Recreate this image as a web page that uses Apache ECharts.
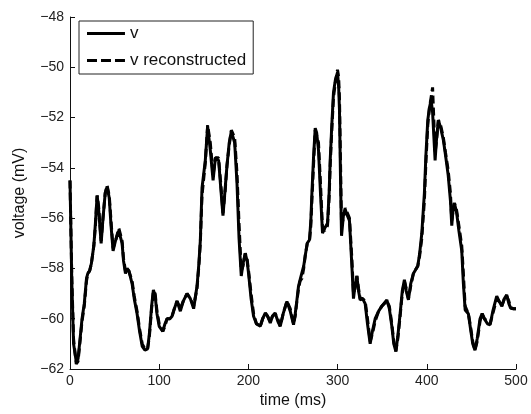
<!DOCTYPE html>
<html><head><meta charset="utf-8">
<script src="https://cdn.jsdelivr.net/npm/echarts@6/dist/echarts.min.js"></script>
<style>html,body{margin:0;padding:0;background:#fff}#c{width:531px;height:414px}</style>
</head><body><div id="c"></div>
<script>
const time = [0,2,4,7,9,11,13.5,16,18.5,20,22,24,26.7,28.5,30.4,32,34.9,37,39.5,41.6,44,46,48.3,51,54.7,58.4,60,62.2,64,66,69.6,72,75.2,78,81,84,87,89,91.5,93.5,95.5,97.5,100,104,106.5,108.8,112,114.4,117,120,123.7,127,131.2,134.9,138.6,142.4,144.5,146.1,148,151.7,154.3,157.3,160.4,163,166.6,169,171.5,174,176,178.5,180.9,184.6,187.2,189.5,192,194,196.5,198.5,200.2,203,205.8,209,213.3,216,219,221.5,224.5,227,230,233,235.7,239,243.2,246.9,250.6,252.5,254.4,256.2,258,260,262,263.7,266,268.5,270,271.2,273,274.9,276.5,278.6,280.8,283.1,285.5,288.7,290.5,291.7,293.5,295.4,297.5,299.9,301.2,302.1,303.3,304.4,306.5,308.5,311,313.3,316,317.8,319.5,321.6,323.5,325.3,328,330.9,333.5,336.5,339,342.1,346,349.6,355.2,358,360.8,363,365.3,367.5,370.1,372.5,374.9,377,379.4,382,385,389.9,392,394.4,397.3,399,401.1,403,404.8,406.5,409.3,411,413,415.5,418.6,421,424,426.5,428,429.5,431,433.5,436,439.2,441,443,446.6,449,451.5,454,456.5,459.7,462,464.5,468,471,474,478.4,481,484,487,489.6,492,494,497,500];
const v = [-54.5,-58.5,-61.0,-61.7,-61.6,-60.9,-60.0,-59.4,-58.4,-58.2,-58.1,-57.8,-57.1,-56.2,-55.1,-55.6,-57.0,-56.0,-55.0,-54.75,-55.2,-56.3,-57.3,-56.9,-56.5,-57.0,-57.7,-58.2,-58.0,-58.1,-58.6,-59.2,-59.8,-60.5,-61.1,-61.25,-61.2,-60.6,-59.5,-58.85,-59.1,-59.8,-60.3,-60.5,-60.2,-60.0,-60.0,-59.9,-59.6,-59.3,-59.7,-59.3,-59.0,-59.2,-59.6,-58.7,-57.8,-56.9,-54.8,-53.7,-52.35,-53.3,-54.5,-53.6,-53.7,-54.8,-55.9,-54.8,-53.9,-53.0,-52.55,-53.0,-54.6,-56.8,-58.3,-57.8,-57.4,-57.7,-58.2,-59.2,-59.9,-60.2,-60.3,-60.0,-59.77,-59.9,-60.17,-59.9,-59.77,-60.1,-60.3,-59.8,-59.31,-59.7,-60.24,-59.8,-59.25,-58.7,-58.45,-58.38,-57.9,-57.5,-57.0,-56.86,-56.1,-55.0,-53.6,-52.42,-52.6,-53.3,-55.0,-56.6,-56.4,-56.2,-55.0,-53.7,-52.3,-51.0,-50.5,-50.2,-50.8,-51.7,-54.5,-56.7,-55.9,-55.66,-55.9,-56.1,-57.9,-59.2,-58.7,-58.3,-58.9,-59.25,-59.2,-59.4,-60.2,-61.0,-60.5,-60.0,-59.7,-59.5,-59.25,-59.6,-60.3,-61.0,-61.3,-60.7,-59.8,-58.9,-58.45,-58.9,-59.25,-58.6,-58.2,-57.9,-57.4,-56.6,-55.0,-53.5,-52.1,-51.6,-51.3,-51.8,-53.7,-52.8,-52.1,-52.4,-52.9,-53.5,-54.3,-55.3,-56.3,-55.6,-55.4,-55.8,-56.5,-57.3,-58.6,-59.65,-59.8,-60.4,-61.0,-61.25,-60.8,-60.0,-59.8,-60.0,-60.2,-60.24,-59.7,-59.1,-59.3,-59.5,-59.2,-59.05,-59.4,-59.58,-59.6,-59.6];
const vRecon = [-54.5,-58.3,-60.8,-61.8,-61.7,-61.0,-60.1,-59.5,-58.5,-58.2,-58.1,-57.8,-57.1,-56.3,-55.1,-55.5,-56.9,-56.0,-55.0,-54.7,-55.1,-56.1,-57.2,-56.9,-56.4,-56.9,-57.6,-58.1,-58.0,-58.1,-58.5,-59.1,-59.7,-60.4,-61.0,-61.2,-61.2,-60.7,-59.6,-58.9,-59.0,-59.7,-60.2,-60.5,-60.3,-60.0,-60.0,-59.9,-59.6,-59.3,-59.6,-59.3,-59.0,-59.2,-59.5,-58.8,-57.9,-57.0,-55.1,-53.8,-52.3,-53.0,-54.3,-53.6,-53.6,-54.6,-55.8,-54.9,-53.9,-53.1,-52.5,-52.8,-54.2,-56.2,-58.1,-57.9,-57.4,-57.6,-58.1,-59.0,-59.8,-60.2,-60.3,-60.0,-59.8,-59.9,-60.1,-59.9,-59.8,-60.0,-60.3,-59.8,-59.3,-59.6,-60.2,-59.9,-59.3,-58.8,-58.5,-58.4,-58.0,-57.5,-57.0,-56.9,-56.3,-55.3,-53.9,-52.5,-52.5,-53.0,-54.6,-56.4,-56.5,-56.3,-55.2,-53.9,-52.5,-51.2,-50.6,-50.1,-50.4,-51.2,-53.8,-56.3,-56.0,-55.6,-55.8,-56.0,-57.6,-59.0,-58.8,-58.3,-58.8,-59.2,-59.2,-59.3,-60.0,-60.9,-60.6,-60.1,-59.7,-59.5,-59.3,-59.5,-60.2,-60.9,-61.3,-60.8,-59.9,-59.0,-58.5,-58.8,-59.2,-58.7,-58.2,-57.9,-57.5,-56.8,-55.3,-53.8,-52.3,-51.6,-51.2,-50.8,-53.4,-52.9,-52.1,-52.3,-52.8,-53.4,-54.1,-55.0,-56.1,-55.7,-55.4,-55.7,-56.3,-57.1,-58.2,-59.5,-59.8,-60.3,-60.9,-61.25,-60.9,-60.1,-59.8,-60.0,-60.1,-60.2,-59.8,-59.2,-59.3,-59.5,-59.2,-59.1,-59.3,-59.55,-59.6,-59.6];
const xTicks = [0,100,200,300,400,500];
const yTicks = [-62,-60,-58,-56,-54,-52,-50,-48];
const seriesNames = ['v','v reconstructed'];

const font = "'Liberation Sans', Arial, sans-serif";
const chart = echarts.init(document.getElementById('c'), null, {renderer:'canvas'});
const pairs = (ys) => time.map((t,i)=>[t, ys[i]]);
chart.setOption({
  animation:false,
  backgroundColor:'#fff',
  grid:{left:70, right:15, top:17, bottom:45, containLabel:false},
  legend:{
    left:79, top:21, orient:'vertical',
    backgroundColor:'#fff', borderColor:'#222', borderWidth:1,
    padding:[4,7,5,8], itemGap:10, itemWidth:38, itemHeight:12,
    textStyle:{fontFamily:font, fontSize:17, color:'#111', lineHeight:16},
    data:[
      {name:seriesNames[0], icon:'path://M0,4.5h38v3h-38z M0,0h0.01v0.01h-0.01z M0,12h0.01v0.01h-0.01z'},
      {name:seriesNames[1], icon:'path://M0,4.5h10v3h-10z M14,4.5h10v3h-10z M28,4.5h10v3h-10z M0,0h0.01v0.01h-0.01z M0,12h0.01v0.01h-0.01z'}
    ]
  },
  xAxis:{
    type:'value', min:xTicks[0], max:xTicks[xTicks.length-1], interval:100,
    name:'time (ms)', nameLocation:'middle', nameGap:23,
    nameTextStyle:{fontFamily:font, fontSize:16, color:'#111'},
    axisLine:{lineStyle:{color:'#111', width:1}},
    axisTick:{inside:true, length:5, lineStyle:{color:'#111'}},
    axisLabel:{fontFamily:font, fontSize:14, color:'#222', margin:5},
    splitLine:{show:false}
  },
  yAxis:{
    type:'value', min:yTicks[0], max:yTicks[yTicks.length-1], interval:2,
    name:'voltage (mV)', nameLocation:'middle', nameGap:42, nameRotate:90,
    nameTextStyle:{fontFamily:font, fontSize:16, color:'#111'},
    axisLine:{show:true, lineStyle:{color:'#111', width:1}},
    axisTick:{show:true, inside:true, length:5, lineStyle:{color:'#111'}},
    axisLabel:{fontFamily:font, fontSize:14, color:'#222', margin:6,
      formatter:(val)=>String(val).replace('-', '\u2212')},
    splitLine:{show:false}
  },
  series:[
    {name:seriesNames[0], type:'line', data:pairs(v), symbol:'none', smooth:false,
     lineStyle:{color:'#000', width:3, type:'solid'}, itemStyle:{color:'#000'}, z:2},
    {name:seriesNames[1], type:'line', data:pairs(vRecon), symbol:'none', smooth:false,
     lineStyle:{color:'#000', width:3, type:[8,4]}, itemStyle:{color:'#000'}, z:3}
  ]
});
</script></body></html>
